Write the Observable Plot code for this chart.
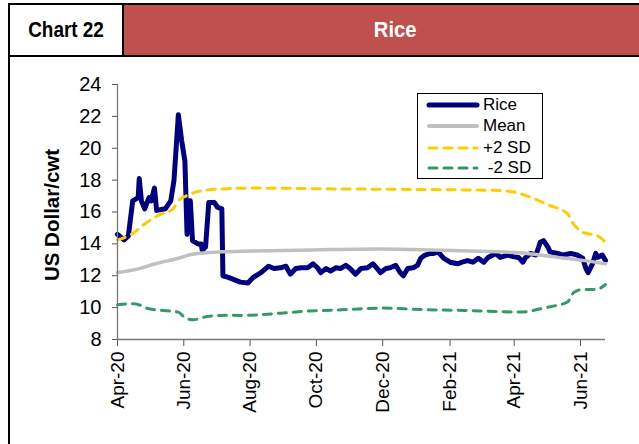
<!DOCTYPE html>
<html><head><meta charset="utf-8">
<script src="https://cdn.jsdelivr.net/npm/d3@7"></script>
<script src="https://cdn.jsdelivr.net/npm/@observablehq/plot@0.6"></script>
<style>
html,body{margin:0;padding:0;background:#fff;overflow:hidden;width:639px;height:444px;}
body{position:relative;font-family:"Liberation Sans",Arial,sans-serif;}
#hdr{position:absolute;left:8px;top:3px;width:656px;height:50px;border:2px solid #000;display:flex;}
#c1{width:112px;height:100%;display:flex;align-items:center;justify-content:center;font-weight:bold;font-size:22px;border-right:2px solid #000;}
#c1 span{display:inline-block;transform:scaleX(0.86);}
#c2{flex:1;height:100%;background:#c0504d;color:#fff;display:flex;align-items:center;justify-content:center;font-weight:bold;font-size:22px;}
#c2 span{display:inline-block;transform:scaleX(0.92);}
#frame{position:absolute;left:8px;top:55px;width:700px;height:500px;border-left:2px solid #000;}
#chart{position:absolute;left:0;top:60px;}
#ylab{position:absolute;left:52px;top:215px;transform:translate(-50%,-50%) rotate(-90deg);font-weight:bold;font-size:20.5px;white-space:nowrap;}
#legend{position:absolute;left:417px;top:93px;width:124px;height:84px;border:1px solid #000;background:#fff;font-size:17px;}
#legend .row{position:absolute;left:0;height:20px;width:124px;}
#legend svg{position:absolute;left:0;top:0;}
#legend span{position:absolute;left:65px;top:0;line-height:20px;}
</style></head>
<body>
<div id="hdr"><div id="c1"><span>Chart 22</span></div><div id="c2"><span>Rice</span></div></div>
<div id="frame"></div>
<div id="chart"></div>
<div id="ylab">US Dollar/cwt</div>
<div id="legend"></div>
<script>
// Rice price
const riceDates = ["2020-04-01","2020-04-07","2020-04-11","2020-04-15","2020-04-20","2020-04-21","2020-04-23","2020-04-26","2020-04-30","2020-05-02","2020-05-05","2020-05-07","2020-05-15","2020-05-20","2020-05-23","2020-05-27","2020-05-30","2020-06-02","2020-06-04","2020-06-06","2020-06-07","2020-06-09","2020-06-14","2020-06-17","2020-06-18","2020-06-21","2020-06-24","2020-06-29","2020-07-02","2020-07-06","2020-07-07","2020-07-12","2020-07-23","2020-07-30","2020-08-04","2020-08-11","2020-08-18","2020-08-23","2020-08-29","2020-09-03","2020-09-07","2020-09-12","2020-09-17","2020-09-23","2020-09-28","2020-10-02","2020-10-05","2020-10-10","2020-10-14","2020-10-19","2020-10-23","2020-10-28","2020-11-01","2020-11-06","2020-11-11","2020-11-17","2020-11-22","2020-11-26","2020-11-29","2020-12-04","2020-12-08","2020-12-13","2020-12-17","2020-12-20","2020-12-24","2020-12-29","2021-01-02","2021-01-05","2021-01-09","2021-01-14","2021-01-17","2021-01-21","2021-01-26","2021-02-01","2021-02-08","2021-02-12","2021-02-17","2021-02-22","2021-02-27","2021-03-04","2021-03-08","2021-03-15","2021-03-19","2021-03-26","2021-03-31","2021-04-05","2021-04-09","2021-04-11","2021-04-16","2021-04-21","2021-04-25","2021-04-28","2021-05-02","2021-05-04","2021-05-11","2021-05-16","2021-05-23","2021-05-29","2021-06-03","2021-06-06","2021-06-08","2021-06-12","2021-06-15","2021-06-17","2021-06-21","2021-06-24"];
const riceValues = [14.6,14.25,14.5,16.7,16.9,18.1,16.7,16.2,16.9,16.7,17.5,16.1,16.2,16.7,18.0,22.1,20.5,19.2,14.6,16.7,16.7,14.2,14.0,14.0,13.6,13.8,16.6,16.6,16.3,16.2,12.0,11.9,11.6,11.55,11.9,12.2,12.6,12.45,12.5,12.6,12.1,12.45,12.5,12.5,12.75,12.5,12.2,12.45,12.3,12.5,12.45,12.65,12.45,12.1,12.45,12.5,12.75,12.45,12.2,12.45,12.5,12.65,12.2,12.0,12.45,12.5,12.65,13.1,13.3,13.4,13.4,13.5,13.1,12.85,12.75,12.85,12.95,12.85,13.1,12.85,13.15,13.4,13.15,13.3,13.2,13.15,12.85,13.1,13.4,13.3,14.1,14.2,13.8,13.5,13.4,13.3,13.4,13.3,13.1,12.45,12.2,12.75,13.4,13.15,13.3,12.95];
// Mean
const meanDates = ["2020-04-01","2020-04-21","2020-05-06","2020-05-27","2020-06-09","2020-07-05","2020-08-04","2020-09-28","2020-11-27","2021-01-16","2021-03-17","2021-04-06","2021-05-06","2021-06-05","2021-06-24"];
const meanValues = [12.2,12.45,12.75,13.1,13.35,13.5,13.55,13.62,13.68,13.62,13.5,13.45,13.2,12.95,12.75];
// +2 SD
const plusDates = ["2020-04-01","2020-04-15","2020-04-27","2020-05-09","2020-05-22","2020-05-27","2020-06-03","2020-06-15","2020-07-07","2020-08-06","2020-10-18","2021-01-26","2021-03-17","2021-04-01","2021-04-13","2021-05-04","2021-05-20","2021-05-25","2021-06-04","2021-06-17","2021-06-24"];
const plusValues = [14.25,14.65,15.3,15.8,16.2,16.7,17.0,17.3,17.45,17.5,17.45,17.4,17.35,17.25,17.0,16.4,15.9,15.3,14.7,14.5,14.1];
// -2 SD
const minusDates = ["2020-04-01","2020-04-16","2020-04-30","2020-05-20","2020-05-27","2020-06-03","2020-06-10","2020-06-23","2020-07-10","2020-07-23","2020-08-29","2020-09-18","2020-10-30","2020-11-29","2021-01-05","2021-02-15","2021-03-16","2021-04-07","2021-04-28","2021-05-10","2021-05-20","2021-05-26","2021-06-01","2021-06-16","2021-06-24"];
const minusValues = [10.18,10.25,9.93,9.78,9.72,9.32,9.24,9.45,9.52,9.51,9.65,9.76,9.88,9.97,9.88,9.82,9.76,9.72,9.97,10.14,10.35,10.97,11.12,11.15,11.45];

const xTicks = ["2020-04-01","2020-06-01","2020-08-01","2020-10-01","2020-12-01","2021-02-01","2021-04-01","2021-06-01"];
const xTickLabels = ["Apr-20","Jun-20","Aug-20","Oct-20","Dec-20","Feb-21","Apr-21","Jun-21"];
const yTicks = [8,10,12,14,16,18,20,22,24];
const seriesNames = ["Rice","Mean","+2 SD"," -2 SD"];
const seriesColors = ["#000080","#c0c0c0","#ffcc00","#339966"];

const toRows = (ds, vs) => ds.map((d, i) => ({date: new Date(d), value: vs[i]}));
const rice = toRows(riceDates, riceValues);
const mean = toRows(meanDates, meanValues);
const plus = toRows(plusDates, plusValues);
const minus = toRows(minusDates, minusValues);
const tickDates = xTicks.map(d => new Date(d));
const labelOf = new Map(tickDates.map((d, i) => [+d, xTickLabels[i]]));

const dash = {strokeWidth: 3, strokeDasharray: "8,7", strokeLinecap: "round"};
const plot = Plot.plot({
  width: 639, height: 384,
  marginLeft: 117, marginRight: 34, marginTop: 24, marginBottom: 105,
  x: {type: "utc", domain: [new Date("2020-04-01"), new Date("2021-06-24")]},
  y: {domain: [8, 24]},
  style: {fontFamily: "'Liberation Sans', Arial, sans-serif", fontSize: "19px", color: "#000", background: "transparent", overflow: "visible"},
  marks: [
    Plot.line(rice, {x: "date", y: "value", stroke: seriesColors[0], strokeWidth: 5, strokeLinejoin: "round", strokeLinecap: "round"}),
    Plot.line(mean, {x: "date", y: "value", stroke: seriesColors[1], strokeWidth: 3.5, curve: "monotone-x"}),
    Plot.line(plus, {x: "date", y: "value", stroke: seriesColors[2], curve: "monotone-x", ...dash}),
    Plot.line(minus, {x: "date", y: "value", stroke: seriesColors[3], curve: "monotone-x", ...dash}),
    Plot.axisY({ticks: yTicks, tickSize: 5, tickPadding: 11, label: null, stroke: "#555", fontSize: 20}),
    Plot.axisX({ticks: tickDates, tickFormat: d => labelOf.get(+d), tickRotate: -90, tickSize: 7, tickPadding: 5, label: null, stroke: "#555", fontSize: 19}),
    Plot.ruleY([8], {stroke: "#777", strokeWidth: 1.3}),
    Plot.ruleX([new Date("2020-04-01")], {stroke: "#777", strokeWidth: 1.3})
  ]
});
document.getElementById("chart").appendChild(plot);

// legend
const leg = document.getElementById("legend");
const rowsTop = [1, 22, 44, 64];
seriesNames.forEach((name, i) => {
  const row = document.createElement("div");
  row.className = "row";
  row.style.top = rowsTop[i] + "px";
  const isDash = i >= 2;
  const sw = i === 0 ? 5 : (i === 1 ? 4 : 3);
  row.innerHTML = `<svg width="64" height="20"><line x1="11" x2="59" y1="10" y2="10" stroke="${seriesColors[i]}" stroke-width="${sw}" stroke-linecap="round" ${isDash ? 'stroke-dasharray="8,7"' : ''}/></svg><span>${name.replace(/ /g, "&nbsp;")}</span>`;
  leg.appendChild(row);
});
</script>
</body></html>
